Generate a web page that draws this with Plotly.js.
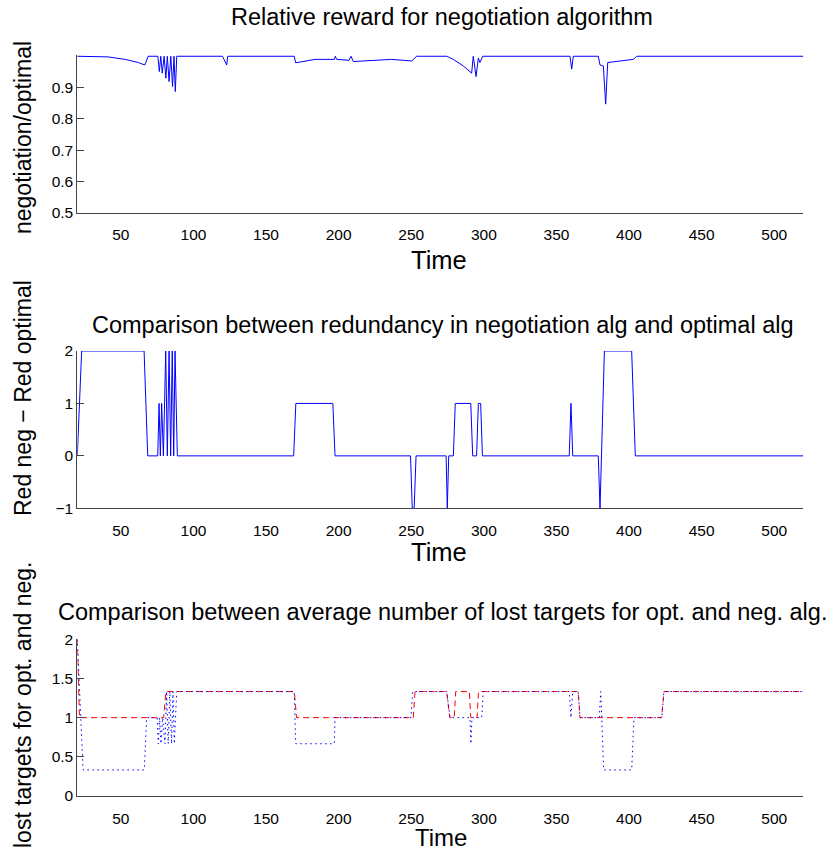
<!DOCTYPE html>
<html>
<head>
<meta charset="utf-8">
<script src="https://cdn.plot.ly/plotly-3.0.1.min.js"></script>
<style>html,body{margin:0;padding:0;background:#fff;}#chart{width:833px;height:850px;}</style>
</head>
<body>
<div id="chart"></div>
<script>
// ---- data ----
const xTicks = [50, 100, 150, 200, 250, 300, 350, 400, 450, 500];

// Top: relative reward (negotiation / optimal)
const topX = [20, 41, 53, 62, 66.5, 68.8, 75.5, 76.5, 77.5, 78.5, 79.8, 81, 82, 83.2, 84.4, 85.6, 86.6, 87.5, 88.5, 120, 122.9, 123.6, 169.4, 170.4, 183.7, 197, 197.7, 198.6, 207.1, 208.5, 210.1, 236.5, 250.3, 253.7, 274.4, 279, 285.8, 291.6, 292.7, 294.6, 296.2, 297.3, 299.2, 359.3, 360.5, 361.6, 378.8, 380, 382.3, 383.9, 385.3, 402.9, 405.3, 520];
const topY = [1, 0.998, 0.990, 0.980, 0.972, 1, 1, 0.951, 1, 0.946, 1, 0.930, 1, 0.919, 1, 0.903, 1, 0.887, 1, 1, 0.972, 1, 1, 0.979, 0.990, 0.990, 1, 0.990, 0.987, 1, 0.983, 0.990, 0.985, 1, 1, 0.990, 0.969, 0.946, 1, 0.935, 0.994, 0.980, 1, 1, 0.959, 1, 1, 0.972, 0.969, 0.847, 0.980, 0.990, 1, 1];
const topYTicks = [0.5, 0.6, 0.7, 0.8, 0.9];

// Middle: redundancy difference (neg - optimal)
const midX = [20, 21.5, 23, 66, 68.5, 75.4, 76.3, 77.2, 78.1, 79.3, 80.9, 82, 83.2, 84.3, 85.4, 86.4, 87.3, 88.9, 169, 170.5, 196, 197.5, 249.5, 250.7, 252, 253.3, 274, 274.8, 275.8, 279, 280.3, 291, 292.3, 295, 296.2, 297.8, 299, 358.8, 360, 361.2, 378.8, 380, 383, 401.8, 404.3, 520];
const midY = [0, 1, 2, 2, 0, 0, 1, 0, 1, 0, 2, 0, 2, 0, 2, 0, 2, 0, 0, 1, 1, 0, 0, -1, -1, 0, 0, -1, 0, 0, 1, 1, 0, 0, 1, 1, 0, 0, 1, 0, 0, -1, 2, 2, 0, 0];
const midYTicks = [-1, 0, 1, 2];

// Bottom: average number of lost targets
const optX = [20, 21.5, 79.5, 81, 169.5, 171, 251.4, 252.6, 274.4, 276.5, 279.6, 280.6, 290, 291, 295.3, 296.3, 365, 366.2, 422.5, 424, 520];
const optY = [2, 1, 1, 1.333, 1.333, 1, 1, 1.333, 1.333, 1, 1, 1.333, 1.333, 1, 1, 1.333, 1.333, 1, 1, 1.333, 1.333];
const negX = [20, 24, 66.1, 67.8, 75, 75.8, 76.7, 77.6, 78.8, 80.4, 81.5, 82.6, 83.7, 84.9, 85.9, 86.8, 88.5, 169.4, 170.4, 197, 197.5, 249.8, 251, 274.4, 276.7, 290.4, 291.1, 291.8, 298.5, 299.6, 358.8, 360, 361.2, 365, 366.2, 379.5, 380.5, 382.5, 401.8, 403.4, 422.5, 424, 520];
const negY = [2, 0.333, 0.333, 1, 1, 0.667, 1, 0.667, 1, 0.667, 1.333, 0.667, 1.333, 0.667, 1.333, 0.667, 1.333, 1.333, 0.667, 0.667, 1, 1, 1.333, 1.333, 1, 1, 0.667, 1, 1, 1.333, 1.333, 1, 1.333, 1.333, 1, 1, 1.333, 0.333, 0.333, 1, 1, 1.333, 1.333];
const botYTicks = [0, 0.5, 1, 1.5, 2];

// ---- chart ----
const W = 833, H = 850;
const FONT = '"Liberation Sans", Arial, Helvetica, sans-serif';
const px = v => v / W;
const py = v => 1 - v / H;

const traces = [
  {x: topX, y: topY, type: 'scatter', mode: 'lines', xaxis: 'x', yaxis: 'y',
   line: {color: '#0000ff', width: 1}, hoverinfo: 'skip'},
  {x: midX, y: midY, type: 'scatter', mode: 'lines', xaxis: 'x2', yaxis: 'y2',
   line: {color: '#0000ff', width: 1}, hoverinfo: 'skip'},
  {x: optX, y: optY, type: 'scatter', mode: 'lines', xaxis: 'x3', yaxis: 'y3',
   line: {color: '#ff0000', width: 1, dash: '6px,4px'}, hoverinfo: 'skip'},
  {x: negX, y: negY, type: 'scatter', mode: 'lines', xaxis: 'x3', yaxis: 'y3',
   line: {color: '#0000ff', width: 1, dash: '1.5px,3.5px'}, hoverinfo: 'skip'}
];

const xdom = [px(77.3), px(803.3)];
// labelled axis: outside (invisible) ticks push the labels down
function xax(anchor) {
  return {domain: xdom, anchor: anchor, range: [20, 520], tickvals: xTicks,
    ticks: 'outside', ticklen: 8, tickcolor: 'rgba(0,0,0,0)', showline: true, linecolor: '#444',
    linewidth: 1, showgrid: false, zeroline: false,
    tickfont: {family: FONT, size: 15.5, color: '#000'}};
}
// overlay axis: the visible inside tick marks
function xin(over, anchor) {
  return {domain: xdom, overlaying: over, anchor: anchor, side: 'bottom', range: [20, 520],
    tickvals: xTicks, ticks: 'inside', ticklen: 7, tickcolor: '#444', showline: false,
    showgrid: false, zeroline: false, showticklabels: false};
}
function yax(anchor, dom, range, tv) {
  return {domain: dom, anchor: anchor, range: range, tickvals: tv,
    ticks: 'inside', ticklen: 7, tickcolor: '#444', showline: true, linecolor: '#444',
    linewidth: 1, showgrid: false, zeroline: false,
    tickfont: {family: FONT, size: 15.5, color: '#000'}};
}

function ann(text, x, y, size, angle) {
  return {text: text, x: px(x), y: py(y), xref: 'paper', yref: 'paper',
    xanchor: 'center', yanchor: 'middle', showarrow: false, textangle: angle || 0,
    font: {family: FONT, size: size, color: '#000'}};
}

const layout = {
  width: W, height: H,
  margin: {l: 0, r: 0, t: 0, b: 0},
  paper_bgcolor: '#fff', plot_bgcolor: '#fff',
  showlegend: false,
  xaxis: xax('y'),
  yaxis: yax('x', [py(212.7), py(55)], [0.5, 1.004], topYTicks),
  xaxis2: xax('y2'),
  yaxis2: yax('x2', [py(508.3), py(351)], [-1, 2], midYTicks),
  xaxis3: xax('y3'),
  yaxis3: yax('x3', [py(796), py(639.3)], [0, 2], botYTicks),
  xaxis4: xin('x', 'y'),
  xaxis5: xin('x2', 'y2'),
  xaxis6: xin('x3', 'y3'),
  annotations: [
    ann('Relative reward for negotiation algorithm', 442, 17, 23.5),
    ann('Comparison between redundancy in negotiation alg and optimal alg', 443, 325, 23.5),
    ann('Comparison between average number of lost targets for opt. and neg. alg.', 443, 612, 23.5),
    ann('Time', 439, 260, 25.5),
    ann('Time', 439, 552, 25.5),
    ann('Time', 441, 837, 24),
    ann('negotiation/optimal', 23, 138, 23, -90),
    ann('Red neg \u2212 Red optimal', 23, 398, 23, -90),
    ann('lost targets for opt. and neg.', 23, 705, 23, -90)
  ]
};

Plotly.newPlot('chart', traces, layout, {displayModeBar: false, staticPlot: true});
</script>
</body>
</html>
